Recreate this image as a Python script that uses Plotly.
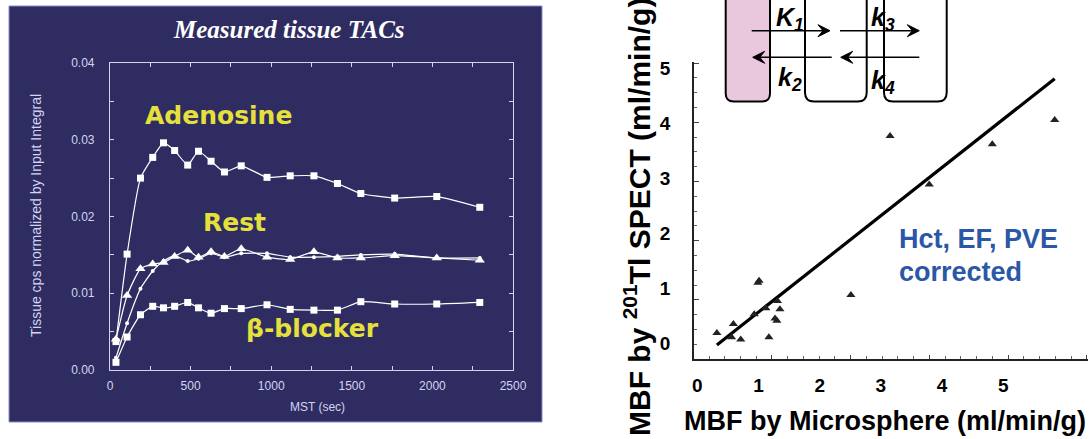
import plotly.graph_objects as go

W, H = 1090, 439
def px(x): return x / W
def py(y): return 1 - y / H

# ---------------- Left panel data: measured tissue TACs ----------------
t_sec = [37, 106, 189, 265, 332, 401, 482, 549, 627, 710, 814, 974, 1118,
         1265, 1411, 1556, 1766, 2027, 2294]
adenosine = [0.0037, 0.0151, 0.0250, 0.0277, 0.0296, 0.0286, 0.0267, 0.0285,
             0.0272, 0.0258, 0.0266, 0.0251, 0.0253, 0.0253, 0.0243, 0.0230,
             0.0224, 0.0226, 0.0212]
rest_tri = [0.0040, 0.0097, 0.0132, 0.0138, 0.0140, 0.0148, 0.0156, 0.0147,
            0.0154, 0.0148, 0.0158, 0.0147, 0.0144, 0.0154, 0.0146, 0.0146,
            0.0149, 0.0146, 0.0143]
rest_circ = [0.0016, 0.0061, 0.0106, 0.0129, 0.0142, 0.0149, 0.0142, 0.0145,
             0.0152, 0.0147, 0.0152, 0.0152, 0.0147, 0.0147, 0.0148, 0.0150,
             0.0151, 0.0146, 0.0146]
beta_blocker = [0.0010, 0.0043, 0.0072, 0.0083, 0.0081, 0.0083, 0.0088, 0.0081,
                0.0074, 0.0080, 0.0080, 0.0085, 0.0079, 0.0078, 0.0078, 0.0089,
                0.0086, 0.0086, 0.0088]
left_xticks = [0, 500, 1000, 1500, 2000, 2500]
left_yticks = [0.00, 0.01, 0.02, 0.03, 0.04]

# ---------------- Right panel data: MBF comparison ----------------
mbf_micro = [0.32, 0.59, 0.56, 0.71, 0.93, 0.99, 1.01, 1.12, 1.17, 1.27, 1.30,
             1.31, 1.35, 2.51, 3.15, 3.79, 4.82, 5.84]
mbf_spect = [0.19, 0.35, 0.11, 0.07, 0.53, 1.10, 1.14, 0.64, 0.11, 0.45, 0.41,
             0.77, 0.62, 0.88, 3.77, 2.89, 3.62, 4.06]
fit_slope, fit_intercept = 0.877, -0.31
fit_x = [0.32, 5.84]
fit_y = [fit_intercept + fit_slope * v for v in fit_x]
right_ticks = [0, 1, 2, 3, 4, 5]

NAVY = "#2e2c60"
LAV = "#d4d4f2"
WHITE = "white"
YEL = "#e6e03c"

fig = go.Figure()

line_style = dict(color=WHITE, width=1.2, shape="spline", smoothing=0.5)
fig.add_trace(go.Scatter(x=t_sec, y=adenosine, mode="lines+markers", line=line_style,
                         marker=dict(symbol="square", size=7, color=WHITE),
                         xaxis="x", yaxis="y", showlegend=False))
fig.add_trace(go.Scatter(x=t_sec, y=rest_circ, mode="lines+markers", line=line_style,
                         marker=dict(symbol="circle", size=4, color=WHITE),
                         xaxis="x", yaxis="y", showlegend=False))
fig.add_trace(go.Scatter(x=t_sec, y=rest_tri, mode="lines+markers", line=line_style,
                         marker=dict(symbol="triangle-up", size=9, color=WHITE),
                         xaxis="x", yaxis="y", showlegend=False))
fig.add_trace(go.Scatter(x=t_sec, y=beta_blocker, mode="lines+markers", line=line_style,
                         marker=dict(symbol="square", size=7, color=WHITE),
                         xaxis="x", yaxis="y", showlegend=False))

# right panel
fig.add_trace(go.Scatter(x=fit_x, y=fit_y, mode="lines",
                         line=dict(color="black", width=3.2),
                         xaxis="x2", yaxis="y2", showlegend=False))
fig.add_trace(go.Scatter(x=mbf_micro, y=mbf_spect, mode="markers",
                         marker=dict(symbol="triangle-up", size=8, color="#222222"),
                         xaxis="x2", yaxis="y2", showlegend=False))
# invisible trace to hold the tick-mark axes
fig.add_trace(go.Scatter(x=[1], y=[1], mode="markers", marker=dict(opacity=0),
                         xaxis="x3", yaxis="y3", showlegend=False, hoverinfo="skip"))

left_axis_common = dict(showgrid=False, zeroline=False, showline=True, linecolor=LAV,
                        linewidth=1.2, mirror="ticks", ticks="inside", ticklen=4,
                        tickcolor=LAV, tickwidth=1, automargin=False,
                        tickfont=dict(family="Liberation Sans", size=12, color=LAV))

fig.update_layout(
    width=W, height=H, margin=dict(l=0, r=0, t=0, b=0, autoexpand=False),
    paper_bgcolor="white", plot_bgcolor="rgba(0,0,0,0)",
    xaxis=dict(domain=[px(110), px(513)], range=[0, 2500], tickvals=left_xticks,
               minor=dict(dtick=250, ticks="inside", ticklen=4, tickcolor=LAV),
               anchor="y", ticklabelstandoff=4, **left_axis_common),
    yaxis=dict(domain=[py(370), py(63)], range=[0, 0.04], tickvals=left_yticks,
               tickformat=".2f",
               minor=dict(dtick=0.005, ticks="inside", ticklen=4, tickcolor=LAV),
               ticklabelstandoff=12, anchor="x", **left_axis_common),
    xaxis2=dict(domain=[px(694.3), px(1088)], range=[-0.049, 6.384], anchor="y2",
                tickvals=right_ticks, showgrid=False, zeroline=False, showline=True,
                linecolor="#222", linewidth=2.2, ticks="", ticklabelstandoff=8,
                automargin=False,
                tickfont=dict(family="Liberation Sans", size=19, color="black", weight="bold")),
    yaxis2=dict(domain=[py(359), py(62)], range=[-0.285, 5.115], anchor="x2",
                tickvals=right_ticks, showgrid=False, zeroline=False, showline=True,
                linecolor="#222", linewidth=2.2, ticks="", ticklabelstandoff=18,
                automargin=False,
                tickfont=dict(family="Liberation Sans", size=19, color="black", weight="bold")),
    xaxis3=dict(domain=[px(694.3), px(1088)], range=[0.0127, 5.016], anchor="y3",
                overlaying="x2", showgrid=False, zeroline=False, showline=False,
                showticklabels=False, ticks="inside", ticklen=4, tickcolor="#444",
                automargin=False,
                dtick=1, minor=dict(dtick=0.2, ticks="inside", ticklen=3, tickcolor="#666")),
    yaxis3=dict(domain=[py(359), py(62)], range=[0, 5.017], anchor="x3",
                overlaying="y2", showgrid=False, zeroline=False, showline=False,
                showticklabels=False, ticks="inside", ticklen=5, tickcolor="#444",
                automargin=False,
                dtick=1, minor=dict(dtick=0.25, ticks="inside", ticklen=3, tickcolor="#666")),
)

shapes = []
# navy background of left panel
shapes.append(dict(type="rect", xref="paper", yref="paper", x0=px(9), x1=px(542),
                   y0=py(422), y1=py(6), fillcolor=NAVY,
                   line=dict(color="#8c8cc8", width=1), layer="below"))

def rrect(x0, x1, ybot, r):
    ytop = -20
    return ("M {a},{b} L {a},{c} Q {a},{d} {e},{d} L {f},{d} Q {g},{d} {g},{c} L {g},{b} Z"
            .format(a=px(x0), b=py(ytop), c=py(ybot - r), d=py(ybot),
                    e=px(x0 + r), f=px(x1 - r), g=px(x1)))

shapes.append(dict(type="path", xref="paper", yref="paper", path=rrect(725.7, 770, 101.5, 8),
                   fillcolor="#e9c8de", line=dict(color="black", width=2)))
shapes.append(dict(type="path", xref="paper", yref="paper", path=rrect(805, 866.7, 101.5, 9),
                   fillcolor="white", line=dict(color="black", width=2)))
shapes.append(dict(type="path", xref="paper", yref="paper", path=rrect(884, 946.7, 101.5, 9),
                   fillcolor="white", line=dict(color="black", width=2)))

# exchange arrows: (tail x, head x, y)
def arrow(tx, hx, y):
    d = 1 if hx > tx else -1
    out = [dict(type="line", xref="paper", yref="paper", x0=px(tx), x1=px(hx - d * 4),
                y0=py(y), y1=py(y), line=dict(color="black", width=1.4))]
    head = ("M {a},{y0} L {b},{y1} L {c},{y0} L {b},{y2} Z"
            .format(a=px(hx), b=px(hx - d * 12), c=px(hx - d * 7),
                    y0=py(y), y1=py(y - 6), y2=py(y + 6)))
    out.append(dict(type="path", xref="paper", yref="paper", path=head,
                    fillcolor="black", line=dict(color="black", width=1)))
    return out

for tx, hx, y in [(751.7, 830, 30.7), (840, 919.3, 30.7), (831.7, 752.7, 57.3), (919.3, 840.7, 57.3)]:
    shapes.extend(arrow(tx, hx, y))
fig.update_layout(shapes=shapes)

ann = []
def text(t, x, y, size, color, family="Liberation Sans", xa="center", ya="middle", angle=0):
    ann.append(dict(text=t, x=px(x), y=py(y), xref="paper", yref="paper",
                    xanchor=xa, yanchor=ya, showarrow=False, textangle=angle,
                    font=dict(family=family, size=size, color=color)))

# left panel texts
text("<b><i>Measured tissue TACs</i></b>", 289, 29, 25, "white", family="Liberation Serif")
text("Tissue cps normalized by Input Integral", 36, 216, 14, LAV, angle=-90)
text("MST (sec)", 317, 407, 12, LAV)
text("<b>Adenosine</b>", 218, 115, 25, YEL, family="DejaVu Sans")
text("<b>Rest</b>", 234, 222, 25, YEL, family="DejaVu Sans")
text("<b>β-blocker</b>", 312, 328, 25, YEL, family="DejaVu Sans")

# right panel texts
text("<b>MBF by <sup>201</sup>Tl SPECT (ml/min/g)</b>", 637, 438, 30, "black",
     ya="bottom", angle=-90)
text("<b>MBF by Microsphere (ml/min/g)</b>", 885, 421, 27, "black")
text("<b>Hct, EF, PVE</b>", 897, 239, 27, "#2b58a6", xa="left")
text("<b>corrected</b>", 897, 272, 27, "#2b58a6", xa="left")

# rate constants
for t, xl, yc in [("<b><i>K</i></b><sub><b><i>1</i></b></sub>", 774, 19),
                  ("<b><i>k</i></b><sub><b><i>3</i></b></sub>", 869, 19),
                  ("<b><i>k</i></b><sub><b><i>2</i></b></sub>", 776, 79),
                  ("<b><i>k</i></b><sub><b><i>4</i></b></sub>", 869, 82)]:
    text(t, xl, yc, 25, "black", xa="left")

fig.update_layout(annotations=ann)
fig.write_html("out.html", config={"displayModeBar": False},
               post_script="document.body.style.margin='0';document.body.style.overflow='hidden';")
